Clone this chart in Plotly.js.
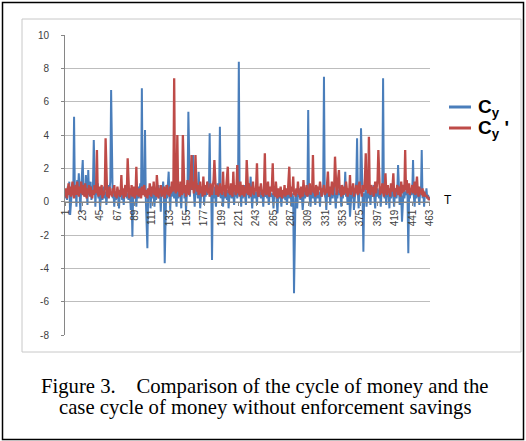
<!DOCTYPE html>
<html><head><meta charset="utf-8">
<script src="https://cdn.plot.ly/plotly-3.0.1.min.js"></script>
<style>html,body{margin:0;padding:0;background:#fff}#c{width:526px;height:441px}</style>
</head><body><div id="c"></div>
<script>
// Cy (blue) values, T = 1..463
const cy = [
0.2,0.6,0.1,0.9,0.4,1.2,-0.8,0.3,0.5,1.1,0.6,5.1,0.4,0.9,-0.3,1.3,0.7,1.7,0.2,-0.6,
0.8,1.4,2.5,0.5,1.0,0.3,1.6,0.7,-0.2,1.9,0.4,0.8,1.2,0.1,0.6,1.0,3.7,0.5,-0.3,0.9,
0.4,1.1,0.2,0.7,-0.5,0.3,0.8,0.1,0.5,0.9,0.2,0.6,-0.2,0.4,1.0,0.3,0.7,1.2,6.7,0.8,
0.2,0.5,-0.3,0.6,0.1,0.4,0.8,0.2,-0.4,0.5,0.3,0.7,0.1,0.4,-0.2,0.6,0.3,0.9,0.2,0.5,
0.1,0.7,0.3,-0.5,0.4,-2.1,0.6,0.2,0.8,0.3,-0.3,0.5,0.9,0.2,0.6,1.1,0.4,6.8,0.7,1.3,
0.5,4.3,0.2,-0.9,-2.8,0.6,0.3,0.8,-0.4,0.5,0.2,0.9,0.4,-0.3,0.6,0.1,0.7,0.3,1.0,0.2,
0.5,-0.6,0.8,0.3,1.2,0.4,-3.7,0.6,1.0,0.2,0.9,1.8,0.4,-0.5,0.7,0.3,1.1,0.5,0.2,0.8,
0.4,-0.3,0.9,0.2,0.6,1.0,0.3,-0.4,0.7,0.5,1.2,0.2,0.8,-0.6,0.4,1.0,5.4,0.6,0.3,1.4,
0.7,2.0,2.8,0.5,-0.3,0.9,0.4,1.1,0.2,1.8,0.6,-0.4,0.3,0.8,0.5,1.0,-0.2,0.7,0.3,0.9,
0.4,1.2,0.6,4.1,0.3,0.8,-3.5,0.5,0.2,0.9,0.4,-0.3,0.7,1.1,0.3,0.6,4.5,0.2,0.8,0.4,
-0.3,0.6,0.2,0.9,0.5,0.1,0.7,-0.4,0.3,0.8,0.4,0.2,1.0,0.5,-0.2,0.6,0.3,0.9,0.2,0.7,
8.4,0.4,0.6,-0.3,0.8,0.2,0.5,1.0,0.3,-0.2,0.7,0.4,0.9,0.2,0.6,1.5,0.3,-0.4,0.5,0.8,
0.2,0.6,0.4,-0.2,0.7,0.3,0.5,0.6,0.2,0.6,0.4,-0.3,0.6,0.5,0.3,0.6,0.2,0.5,-0.2,0.4,
0.6,0.3,0.5,0.2,-0.4,0.6,0.3,0.5,0.1,-0.7,0.4,0.2,0.6,0.3,-0.3,0.5,0.2,0.7,0.3,0.1,
0.5,-0.2,0.4,0.8,0.2,0.6,0.3,-0.3,0.5,0.2,-5.5,0.4,0.7,0.2,-0.4,0.5,0.3,0.8,0.1,0.6,
0.3,-0.5,0.4,0.7,0.2,0.5,0.9,0.3,5.5,0.6,0.2,-0.3,0.8,0.4,0.2,0.7,0.3,-0.2,0.5,0.9,
0.2,0.6,0.4,-0.3,0.7,0.3,0.5,0.9,7.5,0.4,0.2,-0.5,0.6,0.8,0.3,0.5,-0.2,0.7,0.4,0.2,
0.6,0.9,0.3,-0.4,0.5,0.2,0.7,0.4,1.0,0.3,-0.3,0.6,0.2,0.8,0.5,1.8,0.3,0.6,-0.2,0.4,
0.7,-0.9,0.3,0.6,0.2,0.9,-0.5,0.4,0.7,1.2,3.8,0.5,-0.4,0.8,1.0,4.4,0.6,0.2,-3.0,0.5,
0.3,0.8,-0.3,0.6,0.2,0.9,0.4,-0.2,0.7,0.3,0.5,1.0,0.2,-0.4,0.6,0.3,0.8,0.4,0.2,0.7,
-0.3,0.5,0.9,7.4,0.4,0.2,0.6,-0.2,0.8,0.3,0.5,-0.4,0.7,0.2,0.6,0.9,0.3,-0.3,0.5,0.8,
0.2,0.6,2.2,0.4,-0.2,0.7,0.3,-1.2,0.5,0.8,0.2,0.6,0.4,0.9,0.3,-3.1,0.5,0.2,0.7,0.4,
0.6,2.5,0.3,-0.3,0.8,0.2,0.5,0.9,0.3,-0.2,0.6,0.4,3.1,0.2,0.7,-0.3,0.5,0.3,0.8,0.2,
0.4,0.1,0.3
];
// Cy' (red) values, T = 1..463
const cyPrime = [
0.3,0.8,0.2,0.6,1.1,0.4,0.9,0.3,0.7,1.2,0.5,0.2,0.8,1.0,0.4,1.2,0.6,0.3,0.9,0.5,
1.2,0.7,0.4,1.0,0.3,1.1,0.6,0.2,0.8,0.5,1.0,0.3,0.9,0.6,0.2,0.7,0.4,1.0,0.5,0.8,
3.1,0.6,0.3,0.9,0.4,0.7,1.0,0.2,0.6,0.4,0.8,3.8,0.5,0.3,0.7,0.2,0.9,0.4,0.6,0.3,
0.8,0.5,1.0,0.3,0.6,0.2,0.9,0.4,0.7,0.3,0.5,1.6,0.4,0.8,0.2,0.6,1.0,0.3,0.7,2.6,
0.5,0.2,0.8,0.4,1.0,0.3,0.6,0.9,0.2,0.5,2.1,0.4,0.7,0.3,0.8,0.5,0.2,0.9,0.4,0.6,
1.0,0.3,0.7,0.5,0.2,0.8,0.4,1.1,0.6,0.3,0.9,0.5,1.2,0.4,0.7,0.3,1.6,0.6,0.2,0.8,
0.5,1.0,0.3,0.7,0.4,0.9,0.2,0.6,0.8,1.0,0.4,0.7,0.3,0.9,0.5,1.2,0.6,1.0,7.4,0.8,
0.5,1.1,4.0,0.6,0.9,0.3,1.2,0.7,0.4,4.0,0.8,0.5,1.0,0.3,0.7,1.3,0.6,0.4,0.9,1.5,
2.8,0.7,1.2,0.5,0.9,2.8,1.4,0.6,1.0,0.4,0.8,1.2,0.5,0.9,0.3,1.5,0.7,0.4,1.0,0.6,
1.2,0.5,0.8,0.3,1.1,0.6,0.4,0.9,1.3,2.5,0.7,0.4,1.0,0.6,0.3,0.8,1.1,0.5,0.9,0.4,
1.8,0.6,1.0,0.3,0.8,1.2,2.1,0.5,0.9,0.4,1.1,0.7,0.3,1.8,0.6,1.0,0.4,0.8,2.2,0.5,
0.9,0.3,1.2,0.6,0.4,1.0,0.7,0.3,0.9,0.5,2.5,0.8,0.4,1.1,0.6,0.3,0.9,0.5,1.2,0.4,
0.8,0.6,1.0,2.3,0.5,0.3,0.9,0.6,1.1,0.4,0.7,0.3,1.0,2.9,0.6,0.4,0.8,1.2,0.5,0.3,
0.9,0.6,1.0,2.3,0.4,0.7,0.3,1.2,0.6,0.2,0.8,0.5,0.3,0.9,0.6,0.2,0.7,0.4,1.0,0.3,
0.6,0.8,0.4,1.1,2.1,0.5,0.3,0.9,0.6,1.5,0.4,0.7,0.3,0.8,0.5,1.2,0.4,0.7,0.2,0.9,
0.5,0.3,1.3,0.6,0.8,0.4,1.0,0.3,0.7,0.5,1.1,0.4,0.9,0.6,2.8,0.5,0.8,0.3,1.0,0.6,
0.4,0.9,0.7,1.2,0.5,0.3,0.8,0.6,1.0,0.4,0.7,0.5,1.1,1.8,0.6,0.3,0.9,0.5,1.2,0.4,
0.8,1.0,2.7,0.6,0.4,0.9,1.3,1.9,0.5,0.8,0.3,1.0,0.6,0.4,0.9,0.5,1.2,0.7,0.3,0.8,
0.5,1.6,0.4,0.9,0.6,1.1,0.3,0.8,0.5,1.0,0.6,0.4,0.9,1.2,0.5,0.7,0.3,1.0,0.6,0.8,
1.4,2.9,0.7,1.1,0.5,3.9,0.8,0.4,1.0,0.6,0.9,0.3,0.7,1.2,0.5,0.8,1.3,3.1,0.6,0.4,
0.9,0.5,1.1,0.7,0.3,0.8,1.7,0.6,0.4,1.0,0.5,0.8,0.3,1.1,0.6,0.9,1.7,0.5,0.3,0.8,
0.6,1.0,0.4,0.7,0.9,0.3,1.2,0.5,0.8,1.0,0.6,3.1,0.7,1.3,0.5,0.9,1.1,0.4,0.8,0.6,
1.0,0.5,0.9,1.2,0.4,0.8,1.5,0.6,0.3,0.9,0.5,0.7,0.4,0.8,0.3,0.6,0.5,0.3,0.4,0.2,
0.3,0.1,0.2
];
const xTickVals = [1,23,45,67,89,111,133,155,177,199,221,243,265,287,309,331,353,375,397,419,441,463];
const xTickText = ["1","23","45","67","89","111","133","155","177","199","221","243","265","287","309","331","353","375","397","419","441","463"];
const yTickVals = [-8,-6,-4,-2,0,2,4,6,8,10];
const yTickText = ["-8","-6","-4","-2","0","2","4","6","8","10"];
const seriesNames = ["<b>C<sub>y</sub></b>", "<b>C<sub>y</sub> '</b>"];
const seriesColors = ['#4a7ebb', '#be4b48'];
const captionLines = ["Figure 3.\u00a0\u00a0\u00a0\u00a0Comparison of the cycle of money and the",
                      "case cycle of money without enforcement savings"];

const T = cy.map((_, i) => i + 1);

const traces = [
  {x: T, y: cy, type: 'scatter', mode: 'lines', name: seriesNames[0],
   line: {color: seriesColors[0], width: 2}},
  {x: T, y: cyPrime, type: 'scatter', mode: 'lines', name: seriesNames[1],
   line: {color: seriesColors[1], width: 2.3}}
];

const L = 65, R = 96, TOP = 35, B = 106, W = 526, H = 441;
const pw = W - L - R, ph = H - TOP - B;
const px = v => (v - L) / pw;       // pixel x -> paper
const py = v => (H - B - v) / ph;   // pixel y -> paper

// manual legend (keeps plot area fixed)
const legendY = [107, 128];
const legendShapes = seriesNames.map((n, k) => ({
  type: 'line', xref: 'paper', yref: 'paper',
  x0: px(449), x1: px(471), y0: py(legendY[k]), y1: py(legendY[k]),
  line: {color: seriesColors[k], width: 3}
}));
const legendAnn = seriesNames.map((n, k) => ({
  text: n, xref: 'paper', yref: 'paper', x: px(476), y: py(legendY[k] + 1),
  xanchor: 'left', yanchor: 'middle', showarrow: false,
  font: {family: 'Liberation Sans, Arial', size: 19, color: '#000'}
}));

const layout = {
  width: W, height: H,
  margin: {l: L, r: R, t: TOP, b: B, pad: 0},
  paper_bgcolor: '#fff', plot_bgcolor: '#fff',
  showlegend: false,
  xaxis: {
    range: [0.5, 463.5], anchor: 'free', position: 0.4444,
    tickmode: 'array', tickvals: xTickVals, ticktext: xTickText,
    tickangle: -90, tickfont: {family: 'Liberation Sans, Arial', size: 10, color: '#404040'},
    showgrid: false, zeroline: false, showline: true, linecolor: '#868686', linewidth: 1,
    ticks: 'outside', ticklen: 3, tickcolor: '#868686'
  },
  yaxis: {
    range: [-8, 10], tickmode: 'array', tickvals: yTickVals, ticktext: yTickText,
    tickfont: {family: 'Liberation Sans, Arial', size: 10, color: '#404040'},
    ticklabelstandoff: 10,
    showgrid: true, gridcolor: '#bdbdbd', gridwidth: 1, zeroline: false,
    showline: true, linecolor: '#868686', linewidth: 1, ticks: 'outside', ticklen: 3, tickcolor: '#868686'
  },
  shapes: [
    {type: 'rect', xref: 'paper', yref: 'paper', x0: px(22), x1: px(521), y0: py(352), y1: py(19),
     line: {color: '#c8c8c8', width: 1}, fillcolor: 'rgba(0,0,0,0)', layer: 'below'},
    {type: 'rect', xref: 'paper', yref: 'paper', x0: px(2.5), x1: px(523.5), y0: py(439.5), y1: py(2.5),
     line: {color: '#000', width: 1.5}, fillcolor: 'rgba(0,0,0,0)'}
  ].concat(legendShapes),
  annotations: [
    {text: 'T', xref: 'paper', yref: 'paper', x: px(442), y: py(200), xanchor: 'left', yanchor: 'middle',
     showarrow: false, font: {family: 'Liberation Sans, Arial', size: 12, color: '#000'}},
    {text: captionLines[0], xref: 'paper', yref: 'paper', x: px(265), y: py(386), xanchor: 'center', yanchor: 'middle',
     showarrow: false, font: {family: 'Liberation Serif, Times New Roman', size: 20.7, color: '#000'}},
    {text: captionLines[1], xref: 'paper', yref: 'paper', x: px(265), y: py(407), xanchor: 'center', yanchor: 'middle',
     showarrow: false, font: {family: 'Liberation Serif, Times New Roman', size: 20.7, color: '#000'}}
  ].concat(legendAnn)
};

Plotly.newPlot('c', traces, layout, {displayModeBar: false, staticPlot: true});
</script>
</body></html>
